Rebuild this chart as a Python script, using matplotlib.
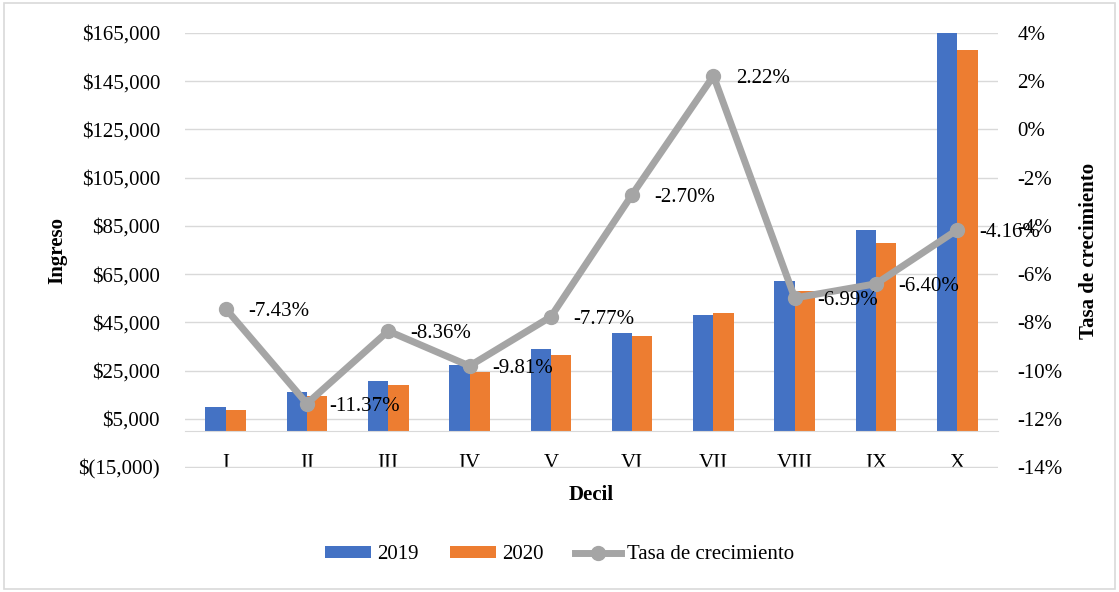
import matplotlib.pyplot as plt
import numpy as np
from matplotlib.patches import Rectangle

# Datos por decil
deciles = ['I', 'II', 'III', 'IV', 'V', 'VI', 'VII', 'VIII', 'IX', 'X']
ingreso_2019 = [9700, 16200, 20800, 27300, 34100, 40400, 47900, 62300, 83100, 164900]
ingreso_2020 = [8700, 14400, 19100, 24600, 31400, 39300, 49000, 58000, 77800, 158000]
tasa = [-7.43, -11.37, -8.36, -9.81, -7.77, -2.70, 2.22, -6.99, -6.40, -4.16]

plt.rcParams['font.family'] = ['Liberation Serif', 'DejaVu Serif']

AZUL = '#4472C4'
NARANJA = '#ED7D31'
GRIS = '#A5A5A5'
GRID = '#D9D9D9'
FS = 15


def fmt_pesos(v, pos=None):
    # Formato contable: negativos entre parentesis
    if v < 0:
        return '$({:,.0f})'.format(-v)
    return '${:,.0f}'.format(v)


fig = plt.figure(figsize=(11.19, 5.92), dpi=100)
ax = fig.add_axes([0.1653, 0.2095, 0.7266, 0.7348])

x = np.arange(len(deciles))
w = 0.25
ax.bar(x - w / 2, ingreso_2019, w, color=AZUL, label='2019', zorder=2)
ax.bar(x + w / 2, ingreso_2020, w, color=NARANJA, label='2020', zorder=2)

# margen minimo abajo para que se vea la ultima linea de la grilla
ax.set_xlim(-0.5, len(deciles) - 0.5)
ax.set_ylim(-15400, 165000)
ax.set_yticks(np.arange(-15000, 165001, 20000))
ax.yaxis.set_major_formatter(plt.FuncFormatter(fmt_pesos))
ax.grid(axis='y', color=GRID, linewidth=1, zorder=0)
ax.set_axisbelow(True)

# Eje horizontal cruzando en cero
for s in ['top', 'right', 'left']:
    ax.spines[s].set_visible(False)
ax.spines['bottom'].set_position(('data', 0))
ax.spines['bottom'].set_color(GRID)
ax.set_xticks(x)
ax.set_xticklabels(deciles)
ax.tick_params(axis='x', length=0, pad=17, labelsize=FS)
ax.tick_params(axis='y', length=0, pad=18, labelsize=FS)

ax.set_ylabel('Ingreso', fontsize=FS, fontweight='bold', labelpad=8)
ax.text(0.5, -0.04, 'Decil', transform=ax.transAxes, ha='center', va='top',
        fontsize=FS, fontweight='bold')

# Eje secundario: tasa de crecimiento
ax2 = ax.twinx()
ax2.plot(x, np.array(tasa) / 100, color=GRIS, linewidth=5, marker='o',
         markersize=10, label='Tasa de crecimiento', zorder=3)
ax2.set_ylim(-0.14 - 0.02 * 400 / 20000, 0.04)
ax2.set_yticks(np.arange(-0.14, 0.041, 0.02))
ax2.yaxis.set_major_formatter(plt.FuncFormatter(lambda v, p: '{:.0f}%'.format(round(v * 100))))
ax2.tick_params(axis='y', length=0, pad=14, labelsize=FS)
for s in ax2.spines.values():
    s.set_visible(False)
ax2.set_ylabel('Tasa de crecimiento', fontsize=FS, fontweight='bold', labelpad=12)

for xi, t in zip(x, tasa):
    ax2.annotate('{:.2f}%'.format(t), (xi, t / 100), xytext=(16, -2),
                 textcoords='offset points', ha='left', va='center', fontsize=FS)

# Leyenda inferior
h1, l1 = ax.get_legend_handles_labels()
h2, l2 = ax2.get_legend_handles_labels()
fig.legend(h1 + h2, l1 + l2, loc='center', bbox_to_anchor=(0.5, 0.063), ncol=3,
           frameon=False, fontsize=FS, handlelength=2.2, handleheight=0.5,
           columnspacing=1.5, handletextpad=0.3)

# Marco exterior
fig.patches.append(Rectangle((0.004, 0.005), 0.992, 0.99, transform=fig.transFigure,
                             fill=False, edgecolor=GRID, linewidth=1.2))

fig.savefig('out.png', dpi=100)
